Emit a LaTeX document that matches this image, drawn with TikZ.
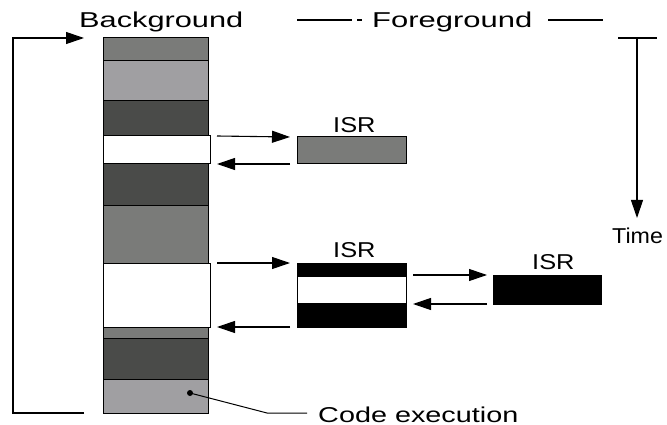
\documentclass[tikz,border=0pt]{standalone}
\usepackage{graphicx}
\usepackage{fontspec}
\setmainfont{Liberation Sans}
\usetikzlibrary{arrows.meta}
\definecolor{gmid}{RGB}{122,123,121}
\definecolor{glight}{RGB}{160,159,162}
\definecolor{gdark}{RGB}{74,75,73}
\begin{document}
\begin{tikzpicture}[x=1pt,y=-1pt,
  seg/.style={draw=black, line width=1pt, inner sep=0pt, outer sep=0pt, minimum width=105pt},
  wseg/.style={seg, fill=white, minimum width=107pt},
  isrbox/.style={draw=black, line width=1pt, inner sep=0pt, outer sep=0pt, minimum width=109pt},
  arr/.style={line width=1.1pt, -{Triangle[length=18pt,width=12pt]}},
  lab/.style={inner sep=0pt, anchor=base west, font=\fontsize{21.5}{21.5}\selectfont},
  plain/.style={line width=1.1pt}
]
\useasboundingbox (0,0) rectangle (667,425);
% background column
\node[seg, fill=gmid,   minimum height=23pt] (s1) at (155.5,49.5) {};
\node[seg, fill=glight, minimum height=40pt] (s2) at (155.5,81) {};
\node[seg, fill=gdark,  minimum height=35pt] (s3) at (155.5,118.5) {};
\node[seg, fill=gdark,  minimum height=41pt] (s5) at (155.5,184.5) {};
\node[seg, fill=gmid,   minimum height=58pt] (s6) at (155.5,234) {};
\node[seg, fill=gmid,   minimum height=11pt] (s8) at (155.5,332.5) {};
\node[seg, fill=gdark,  minimum height=41pt] (s9) at (155.5,358.5) {};
\node[seg, fill=glight, minimum height=34pt] (s10) at (155.5,396) {};
\node[wseg, minimum height=28pt] (s4) at (156.5,150) {};
\node[wseg, minimum height=64pt] (s7) at (156.5,295) {};
% ISR boxes
\node[isrbox, fill=gmid, minimum height=27pt] (isr1) at (351.5,150.5) {};
\node[isrbox, fill=white, minimum height=64pt] (isr2) at (351.5,295) {};
\node[isrbox, fill=black, minimum height=13pt] (isr2a) at (351.5,269.5) {};
\node[isrbox, fill=black, minimum height=24pt] (isr2b) at (351.5,315) {};
\node[isrbox, fill=black, minimum width=108pt, minimum height=29pt] (isr3) at (547,289.5) {};
% labels
\node[lab] (tbg) at (79,28) {\scalebox{1.43}[1]{Background}};
\node[lab] (tfg) at (372,28) {\scalebox{1.44}[1]{Foreground}};
\node[lab] (ttime) at (612,243) {\scalebox{1.08}[1]{Time}};
\node[lab] (tisr1) at (333,133) {\scalebox{1.18}[1]{ISR}};
\node[lab] (tisr2) at (333,257) {\scalebox{1.18}[1]{ISR}};
\node[lab] (tisr3) at (532,269) {\scalebox{1.18}[1]{ISR}};
\node[lab] (tcode) at (318,422) {\scalebox{1.34}[1]{Code execution}};
% foreground rule
\coordinate (f1) at (297,20); \coordinate (f2) at (352,20);
\coordinate (f3) at (357,20); \coordinate (f4) at (362,20);
\coordinate (f5) at (548,20); \coordinate (f6) at (603,20);
\draw[plain] (f1) -- (f2);
\draw[plain] (f3) -- (f4);
\draw[plain] (f5) -- (f6);
% left bracket
\coordinate (b1) at (84,413); \coordinate (b2) at (13,413);
\coordinate (b3) at (13,38); \coordinate (b4) at (84,38);
\draw[arr] (b1) -- (b2) -- (b3) -- (b4);
% time arrow
\coordinate (t1) at (618,38); \coordinate (t2) at (657,38);
\coordinate (t3) at (637,38); \coordinate (t4) at (637,218);
\draw[plain] (t1) -- (t2);
\draw[arr] (t3) -- (t4);
% interrupt arrows
\draw[arr] ([xshift=7pt]s4.north east) -- ([xshift=-7pt]isr1.north west);
\draw[arr] ([xshift=-7pt]isr1.south west) -- ([xshift=7pt]s4.south east);
\draw[arr] ([xshift=7pt]s7.north east) -- ([xshift=-7pt]isr2.north west);
\draw[arr] ([xshift=-7pt]isr2.south west) -- ([xshift=7pt]s7.south east);
\draw[arr] ([xshift=7pt]isr2.east |- isr3.north) -- ([xshift=-6pt]isr3.north west);
\draw[arr] ([xshift=-6pt]isr3.south west) -- ([xshift=7pt]isr2.east |- isr3.south);
% code execution pointer
\coordinate (c1) at (190,393); \coordinate (c2) at (267,413); \coordinate (c3) at (307,413);
\fill (c1) circle (3pt);
\draw[line width=1pt] (c1) -- (c2) -- (c3);
\end{tikzpicture}
\end{document}
